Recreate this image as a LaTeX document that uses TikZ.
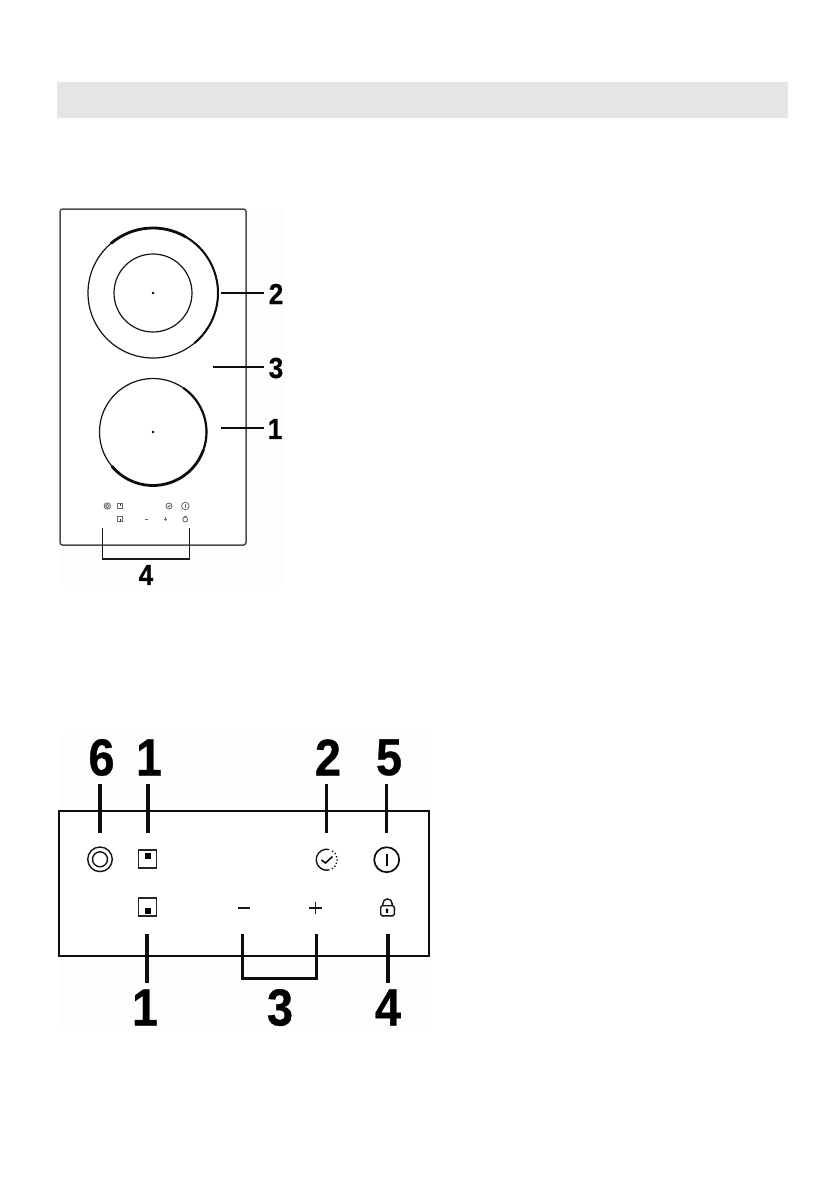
\documentclass[tikz,border=0pt]{standalone}
\usepackage{fontspec}
\setmainfont{Liberation Sans}
\newfontfamily\heavydigits[FakeBold=0.6,FakeStretch=0.9]{Liberation Sans Bold}
\tikzset{
  lab/.style={inner sep=0pt,font=\fontsize{29}{29}\selectfont\heavydigits},
  biglab/.style={inner sep=0pt,font=\fontsize{52}{52}\selectfont\heavydigits},
  leader/.style={line width=1.5pt,black!95},
  tick/.style={line width=3.2pt,black!95},
  thin zone/.style={line width=1.2pt,black!92},
  thick zone/.style={line width=2.8pt,black!95,line cap=round},
  mini/.style={line width=.8pt,black!60},
  icon/.style={line width=1.4pt,black!92},
  panelbg/.style={fill=black!0.8,draw=none}
}
\begin{document}
\begin{tikzpicture}[x=1pt,y=1pt]
\useasboundingbox (0,0) rectangle (839,-1191);
\fill[white] (0,0) rectangle (839,-1191);
\fill[black!10] (57,-82) rectangle (788,-118);
\fill[panelbg] (60,-208) rectangle (285,-585);
\fill[panelbg] (60,-735) rectangle (432,-1028);

% upper figure
\draw[line width=1.5pt,black!70,rounded corners=2.5pt,fill=white] (60,-209) rectangle (246,-545);
\coordinate (c2) at (153,-293);
\coordinate (c1) at (153,-432);
\draw[thin zone] (c2) circle[radius=65pt];
\draw[thin zone] (c2) circle[radius=39pt];
\draw[thick zone,shift={(c2)}] (130:65pt) arc (130:60:65pt);
\draw[thick zone,shift={(c2)},line width=2pt] (60:65pt) arc (60:-50:65pt);
\fill[black] (c2) circle[radius=1.3pt];
\draw[thin zone] (c1) circle[radius=53.5pt];
\draw[thick zone,shift={(c1)},line width=2.2pt] (55:53.5pt) arc (55:-20:53.5pt);
\draw[thick zone,shift={(c1)}] (-20:53.5pt) arc (-20:-140:53.5pt);
\fill[black] (c1) circle[radius=1.3pt];

\node[lab] (u2) at (276,-294) {2};
\node[lab] (u3) at (276,-368) {3};
\node[lab] (u1) at (275,-429) {1};
\node[lab] (u4) at (146,-575) {4};
\coordinate (u2a) at (221,-293); \coordinate (u2b) at (264,-293);
\coordinate (u3a) at (213,-367); \coordinate (u3b) at (264,-367);
\coordinate (u1a) at (221,-428); \coordinate (u1b) at (264,-428);
\draw[leader] (u2a) -- (u2b);
\draw[leader] (u3a) -- (u3b);
\draw[leader] (u1a) -- (u1b);
\coordinate (ubl) at (102.5,-528); \coordinate (ubr) at (189.5,-528);
\draw[line width=1.5pt,black!90] (ubl) -- (102.5,-559) -- (189.5,-559) -- (ubr);

% mini controls
\draw[mini] (107.3,-506) circle[radius=3.2pt];
\draw[mini] (107.3,-506) circle[radius=1.8pt];
\draw[mini] (117.8,-503.5) rectangle (122.8,-508.5);
\fill[black!80] (119.5,-503.8) rectangle (121.2,-505.8);
\draw[mini] (117.8,-516.5) rectangle (122.8,-521.5);
\fill[black!80] (119.5,-519) rectangle (121.2,-521);
\draw[mini] (169,-506) circle[radius=3pt];
\draw[mini] (167.7,-506) -- (168.7,-507) -- (170.4,-505);
\draw[mini] (185.3,-506) circle[radius=3.8pt];
\draw[mini] (185.3,-504) -- (185.3,-508);
\draw[mini] (144.5,-519) -- (147.5,-519);
\draw[mini] (164,-519) -- (167.4,-519);
\draw[mini] (165.7,-517.3) -- (165.7,-520.7);
\draw[mini] (185.3,-519.5) circle[radius=2.5pt];
\draw[mini] (183.9,-517.5) arc (180:0:1.4pt);

% lower figure
\draw[line width=2pt,black!95,fill=white] (59,-811) rectangle (428.7,-955.7);

\node[biglab] (d6) at (101.5,-757.5) {6};
\node[biglab] (d1) at (149,-757.5) {1};
\node[biglab] (d2) at (328,-757.5) {2};
\node[biglab] (d5) at (389,-757.5) {5};
\node[biglab] (b1) at (145,-1007.5) {1};
\node[biglab] (b3) at (280,-1007.5) {3};
\node[biglab] (b4) at (388,-1007.5) {4};

\foreach \n/\x in {6/100,1/148,2/326.7,5/386.7}{
  \coordinate (t\n a) at (\x,-784);
  \coordinate (t\n b) at (\x,-833);
  \draw[tick] (t\n a) -- (t\n b);
}
\foreach \n/\x in {1/147,4/388}{
  \coordinate (s\n a) at (\x,-934);
  \coordinate (s\n b) at (\x,-983);
  \draw[tick] (s\n a) -- (s\n b);
}
\coordinate (bl) at (242.7,-934); \coordinate (br) at (316.7,-934);
\draw[tick] (bl) -- (242.7,-978.7) -- (316.7,-978.7) -- (br);

% ring
\coordinate (ring) at (100,-859.3);
\draw[icon] (ring) circle[radius=12.3pt];
\draw[icon] (ring) circle[radius=7.5pt];
% zone selectors
\draw[line width=1.3pt,black!85] (138.7,-850) rectangle (156.7,-868);
\fill[black] (145,-852.5) rectangle (151,-859);
\draw[line width=1.3pt,black!85] (138.7,-898) rectangle (156.7,-916);
\fill[black] (145,-908) rectangle (151,-914);
% minus, plus
\draw[line width=1.6pt,black!90] (237.7,-907.7) -- (250,-907.7);
\draw[line width=1.6pt,black!90] (309,-907.7) -- (321.6,-907.7);
\draw[line width=1.6pt,black!90] (315.3,-901.5) -- (315.3,-914);
% timer
\coordinate (timer) at (326.7,-859.7);
\draw[icon,shift={(timer)}] (75:10.5pt) arc (75:285:10.5pt);
\draw[line width=1.5pt,black!90,dash pattern=on 1.3pt off 2.1pt,shift={(timer)}] (58:10.5pt) arc (58:-62:10.5pt);
\draw[line width=1.6pt,black!92] (321.5,-860) -- (325.5,-863) -- (332.5,-856.5);
% power
\coordinate (pow) at (386.7,-859.7);
\draw[line width=1.7pt,black!95] (pow) circle[radius=12.5pt];
\draw[line width=2.2pt,black!95] (386.7,-853.5) -- (386.7,-866);
% lock
\draw[line width=1.4pt,black!92,rounded corners=1.5pt] (380.7,-905.7) rectangle (394.3,-915.9);
\draw[line width=1.4pt,black!92] (382.9,-905.7) -- (382.9,-903.5) arc (180:0:4.6pt) -- (392.1,-905.7);
\fill[black] (387,-910) circle[radius=1.6pt];
\fill[black] (386.3,-910) rectangle (387.7,-913);
\end{tikzpicture}
\end{document}
